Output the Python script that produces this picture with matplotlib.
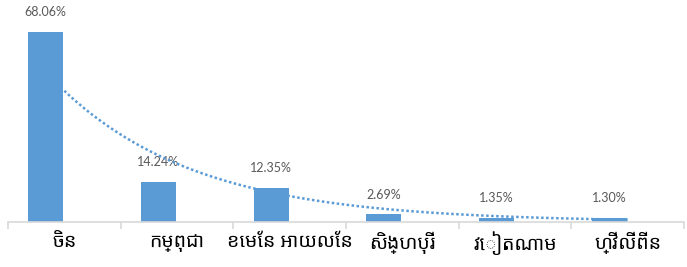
import numpy as np
import matplotlib
matplotlib.use("Agg")
import matplotlib.pyplot as plt

categories = ["ចិន", "កម្ពុជា", "ខេមែន អាយលែន", "សិង្ហបុរី", "វៀតណាម", "ហ្វីលីពីន"]
values = [68.06, 14.24, 12.35, 2.69, 1.35, 1.30]
labels = ["68.06%", "14.24%", "12.35%", "2.69%", "1.35%", "1.30%"]

blue = "#5B9BD5"
fig = plt.figure(figsize=(6.87, 2.67), dpi=100)
ax = fig.add_axes([8/687, 45/267, 676/687, 222/267])

x = np.arange(len(categories))
off = -0.165
ax.bar(x + off, values, width=0.31, color=blue, zorder=2)
for xi, v, l in zip(x, values, labels):
    ax.annotate(l, (xi + off, v), xytext=(0, 10), textcoords="offset points",
                ha="center", va="bottom", fontsize=9, color="#595959",
                family=["Lato", "DejaVu Sans"])

# exponential trendline
xx = x + 1
b, lna = np.polyfit(xx, np.log(values), 1)
xs = np.linspace(1, len(values), 200)
ax.plot(xs - 1, np.exp(lna + b * xs), color=blue, lw=1.8, ls=(0, (1, 1)), zorder=3)

ax.set_xlim(-0.5, len(categories) - 0.5)
ax.set_ylim(0, 79.6)
ax.set_yticks([])
for s in ["top", "right", "left"]:
    ax.spines[s].set_visible(False)
ax.spines["bottom"].set_color("#D9D9D9")
ax.spines["bottom"].set_linewidth(1.2)
ax.set_xticks(x)
ax.set_xticklabels(categories, family=["Noto Sans Khmer", "Khmer OS", "Noto Sans", "DejaVu Sans"],
                   fontsize=14)
ax.tick_params(axis="x", length=0, pad=7, colors="black")
ax.set_xticks(np.arange(-0.5, len(categories)), minor=True)
ax.tick_params(axis="x", which="minor", length=5, color="#D9D9D9", width=1.2)
fig.savefig("out.png", dpi=100)
